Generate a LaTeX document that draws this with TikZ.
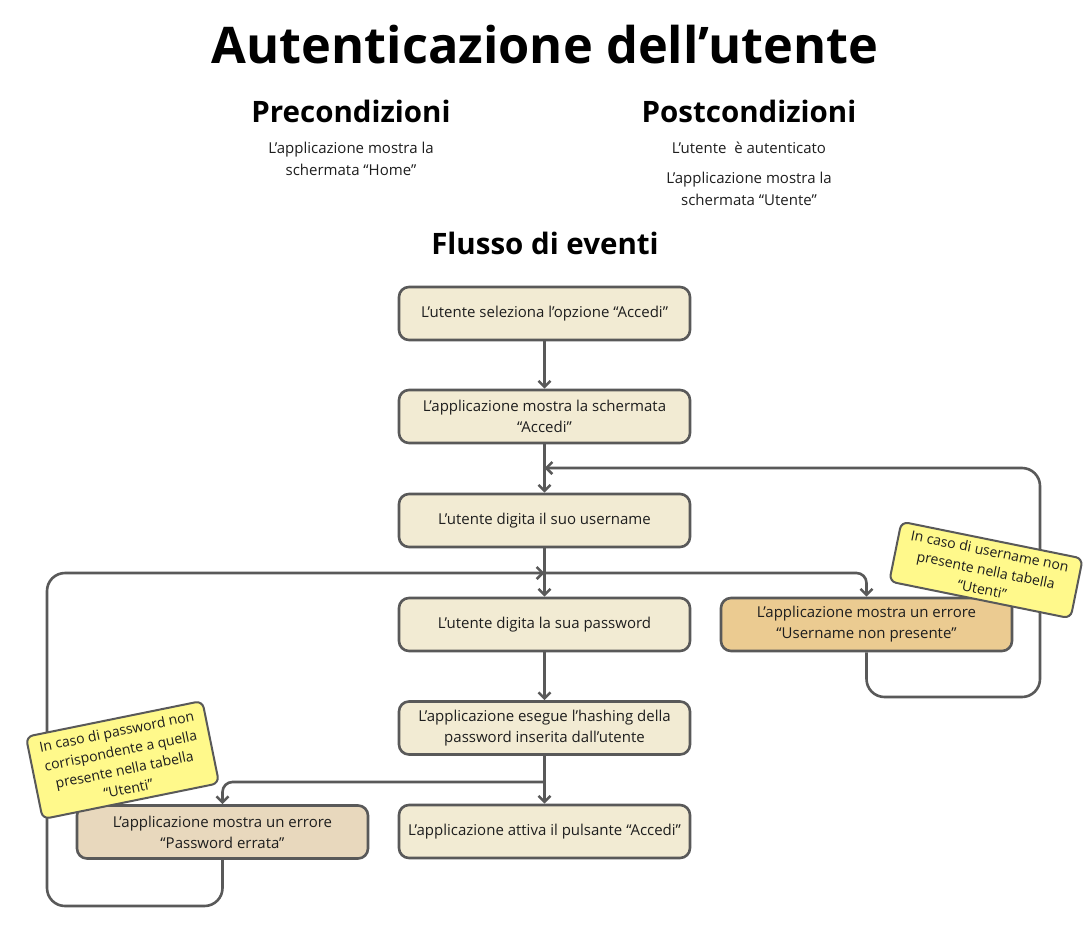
\documentclass[tikz,border=0pt]{standalone}
\usepackage{fontspec}
\setmainfont{Open Sans}
\usetikzlibrary{arrows.meta}

\definecolor{linegray}{HTML}{595959}
\definecolor{textgray}{HTML}{1E1E1E}
\definecolor{boxfill}{HTML}{F2EBD3}
\definecolor{userfill}{HTML}{EBCB91}
\definecolor{passfill}{HTML}{E8D8BD}
\definecolor{notefill}{HTML}{FFF98B}

\tikzset{
  heading/.style={font=\bfseries\fontsize{29.5}{34}\selectfont},
  bodytext/.style={align=center, text=textgray, font=\fontsize{15}{21.5}\selectfont},
  stepbox/.style={draw=linegray, line width=2.6pt, rounded corners=10pt, fill=boxfill,
    minimum width=291pt, minimum height=53pt, align=center, inner sep=0pt,
    text=textgray, font=\fontsize{15}{21}\selectfont},
  notebox/.style={draw=linegray, line width=2pt, rounded corners=7pt, fill=notefill,
    align=center, inner sep=0pt, text=textgray, font=\fontsize{14}{19.5}\selectfont},
  flow/.style={draw=linegray, line width=2.6pt, rounded corners=18pt,
    -{Straight Barb[length=6pt,width=12pt]}},
}

\begin{document}
\begin{tikzpicture}[x=1pt,y=-1pt]

	% canvas
	\fill[white] (0,0) rectangle (1090,932);
	\useasboundingbox (0,0) rectangle (1090,932);

	% titles
	\node[font=\bfseries\fontsize{50.5}{58}\selectfont] (title) at (545,45) {Autenticazione dell’utente};
	\node[heading] (pre) at (351,111) {Precondizioni};
	\node[bodytext] (pretext) at (351,159) {L’applicazione mostra la\\schermata “Home”};
	\node[heading] (post) at (749,111) {Postcondizioni};
	\node[bodytext] (posta) at (749,148) {L’utente~~è autenticato};
	\node[bodytext] (postb) at (749,189) {L’applicazione mostra la\\schermata “Utente”};
	\node[heading] (events) at (545,243) {Flusso di eventi};

	% main steps
	\node[stepbox] (sel) at (544.5,313.5) {L’utente seleziona l’opzione “Accedi”};
	\node[stepbox] (show) at (544.5,416.5) {L’applicazione mostra la schermata\\“Accedi”};
	\node[stepbox] (user) at (544.5,520.5) {L’utente digita il suo username};
	\node[stepbox] (pwd) at (544.5,624.5) {L’utente digita la sua password};
	\node[stepbox] (hash) at (544.5,728) {L’applicazione esegue l’hashing della\\password inserita dall’utente};
	\node[stepbox] (btn) at (544.5,831.5) {L’applicazione attiva il pulsante “Accedi”};

	% errors
	\node[stepbox, fill=userfill] (uerr) at (866.5,624.5) {L’applicazione mostra un errore\\“Username non presente”};
	\node[stepbox, fill=passfill] (perr) at (222.5,832) {L’applicazione mostra un errore\\“Password errata”};

	% straight flow
	\draw[flow] (sel) -- (show);
	\draw[flow] (show) -- (user);
	\draw[flow] (user) -- (pwd);
	\draw[flow] (pwd) -- (hash);
	\draw[flow] (hash) -- (btn);

	% branches
	\coordinate (usplit) at (544.5,573);
	\coordinate (hsplit) at (544.5,782);
	\draw[flow, rounded corners=10pt] (usplit) -| (uerr);
	\draw[flow, rounded corners=10pt] (hsplit) -| (perr);

	% loops back
	\draw[flow] (uerr.south) -- (866.5,697) -- (1040,697) -- (1040,468) -- (544.5,468);
	\draw[flow] (perr.south) -- (222.5,906) -- (47,906) -- (47,573) -- (usplit);

	% notes
	\node[notebox, minimum width=185pt, minimum height=61pt, rotate=-11.5] (unote) at (986,570)
		{In caso di username non\\presente nella tabella\\“Utenti”};
	\node[notebox, minimum width=180pt, minimum height=84pt, rotate=11.5] (pnote) at (122.5,760)
		{In caso di password non\\corrispondente a quella\\presente nella tabella\\“Utenti”};

\end{tikzpicture}
\end{document}
